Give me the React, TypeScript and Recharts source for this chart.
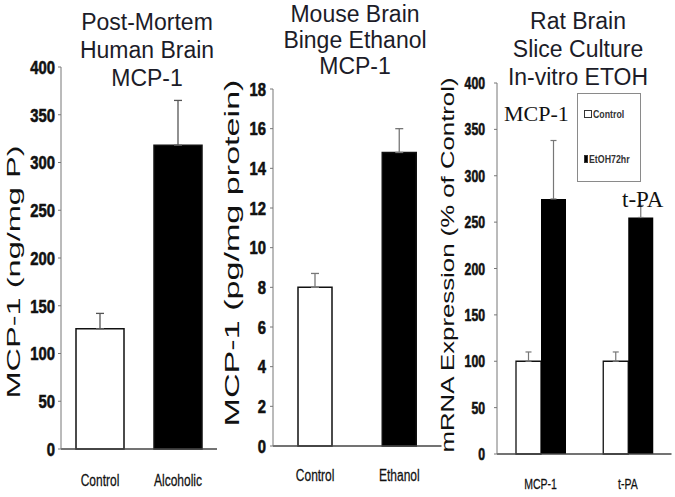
import { Bar, BarChart, Cell, ErrorBar, Legend, XAxis, YAxis } from 'recharts';

// Post-mortem human brain, MCP-1 protein (ng/mg P)
const humanGroups = ['Control', 'Alcoholic'];
const humanMcp1 = [126, 318];
const humanErr = [16, 47];
const humanTicks = [0, 50, 100, 150, 200, 250, 300, 350, 400];

// Mouse brain after binge ethanol, MCP-1 protein (pg/mg protein)
const mouseGroups = ['Control', 'Ethanol'];
const mouseMcp1 = [8.0, 14.8];
const mouseErr = [0.7, 1.2];
const mouseTicks = [0, 2, 4, 6, 8, 10, 12, 14, 16, 18];

// Rat brain slice culture, mRNA expression (% of control)
const sliceGenes = ['MCP-1', 't-PA'];
const sliceControl = [100, 100];
const sliceControlErr = [10, 10];
const sliceEtoh = [275, 255];
const sliceEtohErr = [63, 13];
const sliceTicks = [0, 50, 100, 150, 200, 250, 300, 350, 400];

const panelTitles = [
  ['Post-Mortem', 'Human Brain', 'MCP-1'],
  ['Mouse Brain', 'Binge Ethanol', 'MCP-1'],
  ['Rat Brain', 'Slice Culture', 'In-vitro ETOH'],
];
const yLabels = ['MCP-1 (ng/mg P)', 'MCP-1  (pg/mg protein)', 'mRNA Expression (% of Control)'];
const geneNotes = ['MCP-1', 't-PA'];

const SANS = "'Liberation Sans', Arial, sans-serif";
const SERIF = "'Liberation Serif', 'Times New Roman', serif";
const BAR_FILLS = ['#ffffff', '#000000'];

const humanData = humanGroups.map((group, i) => ({
  group,
  value: humanMcp1[i],
  err: [0, humanErr[i]],
}));

const mouseData = mouseGroups.map((group, i) => ({
  group,
  value: mouseMcp1[i],
  err: [0, mouseErr[i]],
}));

const sliceData = sliceGenes.map((gene, i) => ({
  gene,
  control: sliceControl[i],
  controlErr: [0, sliceControlErr[i]],
  etoh: sliceEtoh[i],
  etohErr: [0, sliceEtohErr[i]],
}));

// the scanned figure uses a condensed font; squeeze Liberation Sans horizontally
type TickProps = {
  x?: number;
  y?: number;
  payload?: { value: string | number };
};

function narrowTick(fontSize: number, bold: boolean, dy: string, anchor: string, squeeze = 0.8) {
  return ({ x = 0, y = 0, payload }: TickProps) => (
    <text
      transform={`translate(${x},${y}) scale(${squeeze},1)`}
      textAnchor={anchor}
      dy={dy}
      fontFamily={SANS}
      fontWeight={bold ? 700 : 400}
      fontSize={fontSize}
      fill="#111"
      stroke="#111"
      strokeWidth={bold ? 0.6 : 0.25}
    >
      {payload?.value}
    </text>
  );
}

type PanelProps = {
  left: number;
  width: number;
  margin: { top: number; right: number; bottom: number; left: number };
  yWidth: number;
  data: { group: string; value: number; err: number[] }[];
  ticks: number[];
  barSize: number;
  tickFont: number;
  tickGap: number;
  catFont: number;
  catMargin: number;
  errColor: string;
};

function TwoBarPanel({
  left,
  width,
  margin,
  yWidth,
  data,
  ticks,
  barSize,
  tickFont,
  tickGap,
  catFont,
  catMargin,
  errColor,
}: PanelProps) {
  return (
    <div style={{ position: 'absolute', left, top: 0 }}>
      <BarChart width={width} height={497} data={data} margin={margin}>
        <XAxis
          dataKey="group"
          axisLine={{ stroke: '#444', strokeWidth: 1.6 }}
          tickLine={false}
          tickSize={0}
          tickMargin={catMargin}
          tick={narrowTick(catFont, false, '0.71em', 'middle', 0.75)}
          height={30}
        />
        <YAxis
          width={yWidth}
          domain={[ticks[0], ticks[ticks.length - 1]]}
          ticks={ticks}
          interval={0}
          axisLine={{ stroke: '#777', strokeWidth: 1 }}
          tickLine={{ stroke: '#777' }}
          tickSize={3}
          tickMargin={tickGap}
          tick={narrowTick(tickFont, true, '0.355em', 'end', 0.78)}
        />
        <Bar dataKey="value" barSize={barSize} stroke="#111" strokeWidth={1.5} isAnimationActive={false}>
          {data.map((entry, i) => (
            <Cell key={entry.group} fill={BAR_FILLS[i]} />
          ))}
          <ErrorBar dataKey="err" width={4} stroke={errColor} strokeWidth={1.3} isAnimationActive={false} />
        </Bar>
      </BarChart>
    </div>
  );
}

function SliceLegend({ payload }: { payload?: { value: string; color: string }[] }) {
  return (
    <div
      style={{
        width: 64,
        height: 89,
        boxSizing: 'border-box',
        border: '1.5px solid #8a8a8a',
        background: '#fff',
        paddingTop: 13,
        fontFamily: SANS,
        fontWeight: 'bold',
        fontSize: 11,
        color: '#333',
      }}
    >
      {(payload ?? []).map((entry, i) => (
        <div
          key={entry.value}
          style={{
            display: 'flex',
            alignItems: 'center',
            height: 14,
            marginTop: i === 0 ? 0 : 31,
            paddingLeft: 6,
            whiteSpace: 'nowrap',
          }}
        >
          <span
            style={{
              display: 'inline-block',
              width: 6,
              height: 6,
              border: '1px solid #333',
              background: entry.color,
              marginRight: 1,
            }}
          />
          <span style={{ display: 'inline-block', transform: 'scaleX(0.8)', transformOrigin: 'left center' }}>
            {entry.value}
          </span>
        </div>
      ))}
    </div>
  );
}

function SlicePanel() {
  return (
    <div style={{ position: 'absolute', left: 437, top: 0 }}>
      <BarChart
        width={238}
        height={497}
        data={sliceData}
        margin={{ top: 83, right: 3.5, bottom: 13, left: 0 }}
        barGap={0}
      >
        <XAxis
          dataKey="gene"
          axisLine={{ stroke: '#444', strokeWidth: 1.6 }}
          tickLine={false}
          tickSize={0}
          tickMargin={25}
          tick={narrowTick(14, false, '0.71em', 'middle', 0.75)}
          height={30}
        />
        <YAxis
          width={60}
          domain={[0, 400]}
          ticks={sliceTicks}
          interval={0}
          axisLine={{ stroke: '#777', strokeWidth: 1 }}
          tickLine={{ stroke: '#777' }}
          tickSize={3}
          tickMargin={9}
          tick={narrowTick(17, true, '0.355em', 'end', 0.72)}
        />
        <Legend
          layout="vertical"
          align="center"
          verticalAlign="middle"
          wrapperStyle={{ left: 140, top: 93, width: 64, height: 89 }}
          content={(props) => <SliceLegend payload={props.payload as { value: string; color: string }[]} />}
        />
        <Bar
          dataKey="control"
          name="Control"
          fill="#ffffff"
          stroke="#111"
          strokeWidth={1.3}
          barSize={25}
          isAnimationActive={false}
        >
          <ErrorBar dataKey="controlErr" width={3} stroke="#777" strokeWidth={1.2} isAnimationActive={false} />
        </Bar>
        <Bar dataKey="etoh" name="EtOH72hr" fill="#000000" barSize={25} isAnimationActive={false}>
          <ErrorBar dataKey="etohErr" width={3} stroke="#777" strokeWidth={1.2} isAnimationActive={false} />
        </Bar>
      </BarChart>
    </div>
  );
}

function TextOverlay() {
  const titleX = [147, 355, 578];
  const titleY = [
    [30, 58, 86],
    [22, 48, 74],
    [29, 57, 85],
  ];
  const labelPos = [
    { x: 20, y: 272, len: 253, size: 18 },
    { x: 239, y: 253, len: 347, size: 21 },
    { x: 454, y: 265, len: 375, size: 19 },
  ];
  return (
    <svg
      width={675}
      height={497}
      style={{ position: 'absolute', left: 0, top: 0, pointerEvents: 'none' }}
    >
      {panelTitles.map((lines, p) =>
        lines.map((line, j) => (
          <text
            key={`${p}-${j}`}
            x={titleX[p]}
            y={titleY[p][j]}
            textAnchor="middle"
            fontFamily={SANS}
            fontSize={23}
            fill="#1c1c28"
          >
            {line}
          </text>
        )),
      )}
      {yLabels.map((label, p) => (
        <text
          key={label}
          x={labelPos[p].x}
          y={labelPos[p].y}
          transform={`rotate(-90 ${labelPos[p].x} ${labelPos[p].y})`}
          textAnchor="middle"
          fontFamily={SANS}
          fontSize={labelPos[p].size}
          textLength={labelPos[p].len}
          lengthAdjust="spacingAndGlyphs"
          fill="#111"
        >
          {label}
        </text>
      ))}
      <text x={504} y={121} fontFamily={SERIF} fontSize={22} fill="#111">
        {geneNotes[0]}
      </text>
      <text x={622} y={207} fontFamily={SERIF} fontSize={23} fill="#111">
        {geneNotes[1]}
      </text>
    </svg>
  );
}

export default function App() {
  return (
    <div
      style={{
        position: 'absolute',
        left: 0,
        top: 0,
        width: 675,
        height: 497,
        background: '#fff',
        overflow: 'hidden',
      }}
    >
      <TwoBarPanel
        left={0}
        width={230}
        margin={{ top: 67, right: 13, bottom: 18, left: 0 }}
        yWidth={61}
        data={humanData}
        ticks={humanTicks}
        barSize={48}
        tickFont={19}
        tickGap={3}
        catFont={16}
        catMargin={26}
        errColor="#555"
      />
      <TwoBarPanel
        left={212}
        width={230}
        margin={{ top: 89, right: 0.5, bottom: 21, left: 0 }}
        yWidth={61}
        data={mouseData}
        ticks={mouseTicks}
        barSize={34}
        tickFont={19}
        tickGap={4}
        catFont={16}
        catMargin={24}
        errColor="#777"
      />
      <SlicePanel />
      <TextOverlay />
    </div>
  );
}
